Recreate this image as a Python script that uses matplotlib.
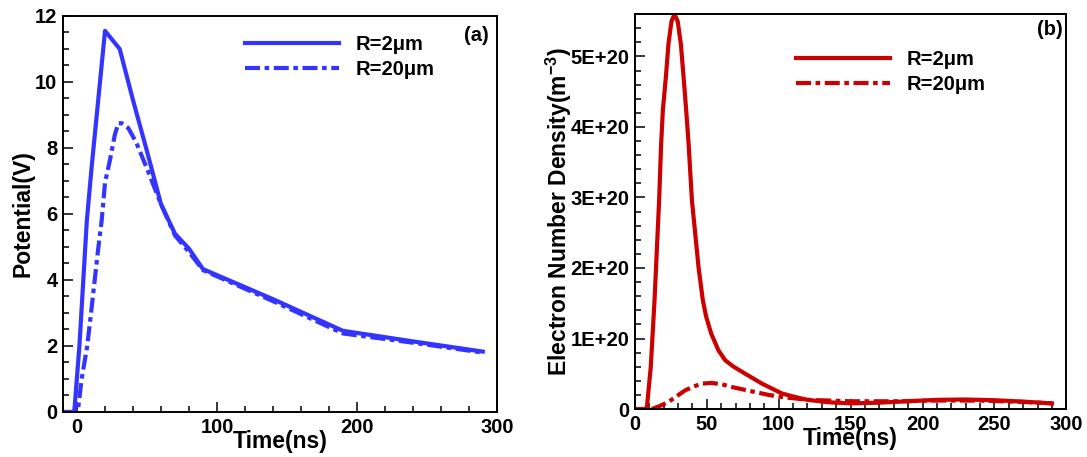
import numpy as np
import matplotlib
matplotlib.use('Agg')
import matplotlib.pyplot as plt
from matplotlib.ticker import MultipleLocator, FuncFormatter

plt.rcParams['font.family'] = ['Liberation Sans', 'DejaVu Sans']
plt.rcParams['font.weight'] = 'bold'
plt.rcParams['mathtext.fontset'] = 'custom'
plt.rcParams['mathtext.rm'] = 'Liberation Sans:bold'
plt.rcParams['mathtext.bf'] = 'Liberation Sans:bold'
plt.rcParams['mathtext.default'] = 'rm'

# (a) potential, V
time_a_2 = [-10, -2, 1.7, 7, 10.5, 20, 30.5, 40, 50, 60, 70, 80, 90, 140, 190, 240, 290]
pot_a_2 = [0, 0, 2.0, 5.8, 7.45, 11.55, 11.0, 9.45, 7.9, 6.3, 5.4, 4.95, 4.33, 3.42, 2.46, 2.14, 1.83]
time_a_20 = [-10, 0.5, 3.3, 7.3, 10, 15, 17.6, 20, 23.6, 27, 29.5, 32, 36.7, 42.6, 50.9, 56.9, 60,
             70, 80, 90, 140, 190, 240, 290]
pot_a_20 = [0, 0, 1.0, 2.0, 3.0, 4.9, 5.8, 6.95, 7.65, 8.4, 8.75, 8.75, 8.6, 8.14, 7.28, 6.63, 6.3,
            5.35, 4.85, 4.3, 3.36, 2.38, 2.1, 1.8]

# (b) electron number density, units of 1E+20 m^-3
time_b_2 = [0, 8.3, 11.1, 13.7, 16.9, 18.3, 19.5, 21.6, 23.4, 25.5, 27.6, 29.8, 32.0, 33.9, 35.7,
            37.4, 39.7, 42, 44.3, 47.3, 49.6, 53.1, 58.2, 62.9, 68.7, 76.8, 88.4, 102.3, 111.6,
            120, 135, 150, 170, 190, 210, 230, 250, 270, 290]
dens_b_2 = [0, 0, 0.6, 1.54, 2.96, 3.76, 4.24, 4.71, 5.18, 5.5, 5.6, 5.5, 5.18, 4.71, 4.24,
            3.76, 2.96, 2.49, 2.01, 1.54, 1.31, 1.07, 0.83, 0.69, 0.6, 0.5, 0.36, 0.22, 0.17,
            0.13, 0.095, 0.08, 0.09, 0.11, 0.13, 0.135, 0.125, 0.105, 0.08]
time_b_20 = [11.8, 17, 23.4, 29, 35, 41, 46.6, 53.5, 60.6, 68, 76.8, 85, 93, 102, 111.6, 120,
             150, 180, 210, 240, 270, 290]
dens_b_20 = [0, 0.04, 0.10, 0.18, 0.265, 0.32, 0.36, 0.37, 0.35, 0.31, 0.27, 0.235, 0.2, 0.17,
             0.15, 0.13, 0.11, 0.11, 0.12, 0.12, 0.1, 0.08]

labels = ['R=2\u03bcm', 'R=20\u03bcm']
blue = '#3434FF'
red = '#CC0000'
dashdot = (0, (3.6, 1.1, 1.1, 1.1))

fig = plt.figure(figsize=(10.87, 4.57), dpi=100)
ax1 = fig.add_axes([0.058, 0.0985, 0.399, 0.8665])
ax2 = fig.add_axes([0.584, 0.105, 0.397, 0.864])

ax1.plot(time_a_2, pot_a_2, color=blue, lw=3, label=labels[0])
ax1.plot(time_a_20, pot_a_20, color=blue, lw=3, ls=dashdot, label=labels[1])
ax1.set_xlim(-10, 300)
ax1.set_ylim(0, 12)
ax1.xaxis.set_major_locator(MultipleLocator(100))
ax1.xaxis.set_minor_locator(MultipleLocator(20))
ax1.yaxis.set_major_locator(MultipleLocator(2))
ax1.yaxis.set_minor_locator(MultipleLocator(0.5))
ax1.set_xlabel('Time(ns)', fontsize=16.5, fontweight='bold')
ax1.set_ylabel('Potential(V)', fontsize=16.5, fontweight='bold')
ax1.xaxis.set_label_coords(0.5, -0.045)
ax1.yaxis.set_label_coords(-0.065, 0.5)
ax1.text(0.982, 0.952, '(a)', transform=ax1.transAxes, ha='right', va='center', fontsize=14.5)
ax1.legend(loc='upper left', bbox_to_anchor=(0.419, 0.952), frameon=False, fontsize=14.5,
           handlelength=4.7, handletextpad=0.8, labelspacing=0.32, borderpad=0, borderaxespad=0)

ax2.plot(time_b_2, np.array(dens_b_2) * 1e20, color=red, lw=3, label=labels[0])
ax2.plot(time_b_20, np.array(dens_b_20) * 1e20, color=red, lw=3, ls=dashdot, label=labels[1])
ax2.set_xlim(0, 300)
ax2.set_ylim(0, 5.6e20)
ax2.xaxis.set_major_locator(MultipleLocator(50))
ax2.xaxis.set_minor_locator(MultipleLocator(10))
ax2.yaxis.set_major_locator(MultipleLocator(1e20))
ax2.yaxis.set_minor_locator(MultipleLocator(0.2e20))
ax2.yaxis.set_major_formatter(FuncFormatter(lambda v, p: '0' if abs(v) < 1 else f'{int(round(v / 1e20))}E+20'))
ax2.set_xlabel('Time(ns)', fontsize=16.5, fontweight='bold')
ax2.set_ylabel('Electron Number Density(m$^{-3}$)', fontsize=16.5, fontweight='bold')
ax2.xaxis.set_label_coords(0.5, -0.045)
ax2.yaxis.set_label_coords(-0.141, 0.5)
ax2.text(0.991, 0.96, '(b)', transform=ax2.transAxes, ha='right', va='center', fontsize=14.5)
ax2.legend(loc='upper left', bbox_to_anchor=(0.373, 0.91), frameon=False, fontsize=14.5,
           handlelength=4.7, handletextpad=0.8, labelspacing=0.32, borderpad=0, borderaxespad=0)

for ax in (ax1, ax2):
    for s in ax.spines.values():
        s.set_linewidth(1.4)
    ax.tick_params(which='both', direction='in', top=False, right=False, width=1.1,
                   labelsize=14.5, pad=4)
    ax.tick_params(which='major', length=7)
    ax.tick_params(which='minor', length=4.3)
    for t in ax.get_xticklabels() + ax.get_yticklabels():
        t.set_fontweight('bold')

fig.savefig('out.png', dpi=100)
